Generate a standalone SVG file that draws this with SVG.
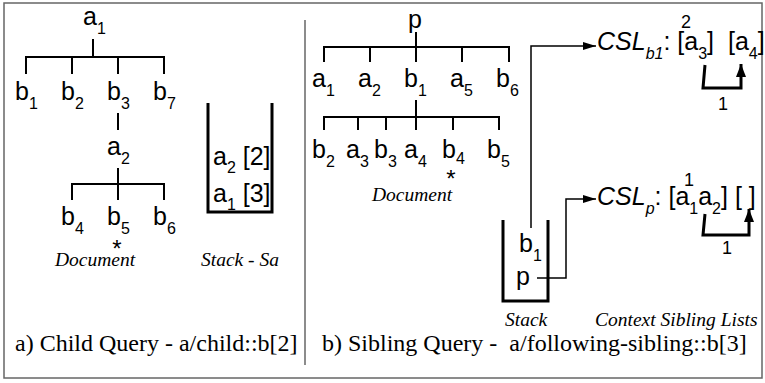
<svg xmlns="http://www.w3.org/2000/svg" width="765" height="383" viewBox="0 0 765 383">
<style>
.n{font-family:"Liberation Sans",Arial,sans-serif;font-size:25px;fill:#000}
.s{font-size:16px}
.it{font-style:italic}
.ast{font-size:24px}
.sup{font-size:18px}
.cap{font-family:"Liberation Serif","Times New Roman",serif;font-size:24px;fill:#000;white-space:pre}
.lab{font-family:"Liberation Serif","Times New Roman",serif;font-size:19.5px;font-style:italic;fill:#000;white-space:pre}
.tl{stroke:#000;stroke-width:2;fill:none}
.st{stroke:#000;stroke-width:3;fill:none}
.cn{stroke:#000;stroke-width:1.5;fill:none}
.br{stroke:#000;stroke-width:3;fill:none}
.pre{white-space:pre}
</style>
<defs>
<marker id="ah" markerUnits="userSpaceOnUse" markerWidth="14" markerHeight="10" refX="13" refY="4" orient="auto"><path d="M0,0 L13,4 L0,8 z" fill="#000"/></marker>
<marker id="au" markerUnits="userSpaceOnUse" markerWidth="14" markerHeight="12" refX="13" refY="5" orient="auto"><path d="M0,0 L13,5 L0,10 z" fill="#000"/></marker>
</defs>
<rect x="4" y="3" width="758" height="375" fill="#fff" stroke="#666" stroke-width="1.5"/>
<line x1="305" y1="20" x2="305" y2="365" stroke="#666" stroke-width="1.5"/>

<g id="connectors">
<path class="tl" d="M93,39 V57 M26,74 V57 H164 V74 M72,57 V74 M118,57 V74"/>
<path class="tl" d="M118,113 V130"/>
<path class="tl" d="M118,168 V184 M72,200 V184 H164 V200 M118,184 V200"/>
<path class="tl" d="M416,32 V47 M324,62 V47 H509 V62 M370,47 V62 M416,47 V62 M462,47 V62"/>
<path class="tl" d="M416,100 V117 M324,130 V117 H499 V130 M358,117 V130 M386,117 V130 M416,117 V130 M453,117 V130"/>
<path class="cn" d="M531,228 V46 H596" marker-end="url(#ah)"/>
<path class="cn" d="M537,278 H566 V199 H596" marker-end="url(#ah)"/>
<path class="br" d="M705,65 L703,88 H741 V64" marker-end="url(#au)"/>
<path class="br" d="M705,214 L703,235 H749 V209" marker-end="url(#au)"/>
</g>

<g id="a1"><text class="n" x="83" y="25">a<tspan class="s" dy="9">1</tspan></text></g>
<g id="b1"><text class="n" x="15" y="100">b<tspan class="s" dy="9">1</tspan></text></g>
<g id="b2"><text class="n" x="61" y="100">b<tspan class="s" dy="9">2</tspan></text></g>
<g id="b3"><text class="n" x="107" y="100">b<tspan class="s" dy="9">3</tspan></text></g>
<g id="b7"><text class="n" x="153" y="100">b<tspan class="s" dy="9">7</tspan></text></g>
<g id="a2"><text class="n" x="107" y="155">a<tspan class="s" dy="9">2</tspan></text></g>
<g id="b4"><text class="n" x="61" y="225">b<tspan class="s" dy="9">4</tspan></text></g>
<g id="b5"><text class="n" x="107" y="225">b<tspan class="s" dy="9">5</tspan></text><text class="n ast" x="117" y="257" text-anchor="middle">*</text></g>
<g id="b6"><text class="n" x="153" y="225">b<tspan class="s" dy="9">6</tspan></text></g>
<text class="lab" x="55" y="266">Document</text>

<g id="stack-sa">
<path class="st" d="M208,103 V212 H272 V103"/>
<text class="n" x="213" y="165">a<tspan class="s" dy="8">2</tspan><tspan dy="-8"> [2]</tspan></text>
<text class="n" x="213" y="202">a<tspan class="s" dy="8">1</tspan><tspan dy="-8"> [3]</tspan></text>
</g>
<text class="lab" x="201" y="266">Stack - Sa</text>
<text class="cap" x="15" y="351">a) Child Query - a/child::b[2]</text>

<g id="p"><text class="n" x="408" y="28">p</text></g>
<g id="r-a1"><text class="n" x="312" y="87">a<tspan class="s" dy="9">1</tspan></text></g>
<g id="r-a2"><text class="n" x="358" y="87">a<tspan class="s" dy="9">2</tspan></text></g>
<g id="r-b1"><text class="n" x="404" y="87">b<tspan class="s" dy="9">1</tspan></text></g>
<g id="r-a5"><text class="n" x="450" y="87">a<tspan class="s" dy="9">5</tspan></text></g>
<g id="r-b6"><text class="n" x="496" y="87">b<tspan class="s" dy="9">6</tspan></text></g>
<g id="r-b2"><text class="n" x="312" y="158">b<tspan class="s" dy="9">2</tspan></text></g>
<g id="r-a3"><text class="n" x="346" y="158">a<tspan class="s" dy="9">3</tspan></text></g>
<g id="r-b3"><text class="n" x="374" y="158">b<tspan class="s" dy="9">3</tspan></text></g>
<g id="r-a4"><text class="n" x="404" y="158">a<tspan class="s" dy="9">4</tspan></text></g>
<g id="r-b4"><text class="n" x="442" y="158">b<tspan class="s" dy="6">4</tspan></text><text class="n ast" x="451" y="187" text-anchor="middle">*</text></g>
<g id="r-b5"><text class="n" x="487" y="158">b<tspan class="s" dy="9">5</tspan></text></g>
<text class="lab" x="372" y="201">Document</text>

<g id="stack">
<path class="st" d="M503,220 V301 H548 V220"/>
<text class="n" x="519" y="252">b<tspan class="s" dy="9">1</tspan></text>
<text class="n" x="516" y="285">p</text>
</g>
<text class="lab" x="505" y="326">Stack</text>

<g id="csl-b1">
<text class="n pre" x="597" y="50"><tspan class="it">CSL</tspan><tspan class="s it" dy="9">b1</tspan><tspan dy="-9">: [a</tspan><tspan class="s" dy="9">3</tspan><tspan dy="-9">]  [a</tspan><tspan class="s" dy="9">4</tspan><tspan dy="-9">]</tspan></text>
<text class="n sup" x="686" y="28" text-anchor="middle">2</text>
<text class="n sup" x="723" y="110" text-anchor="middle">1</text>
</g>
<g id="csl-p">
<text class="n pre" x="597" y="205"><tspan class="it">CSL</tspan><tspan class="s it" dy="9">p</tspan><tspan dy="-9">: [a</tspan><tspan class="s" dy="9">1</tspan><tspan dy="-9">a</tspan><tspan class="s" dy="9">2</tspan><tspan dy="-9">] [ ]</tspan></text>
<text class="n sup" x="689" y="186" text-anchor="middle">1</text>
<text class="n sup" x="727" y="254" text-anchor="middle">1</text>
</g>
<text class="lab" x="595" y="326">Context Sibling Lists</text>
<text class="cap" x="322" y="351">b) Sibling Query -  a/following-sibling::b[3]</text>
</svg>
